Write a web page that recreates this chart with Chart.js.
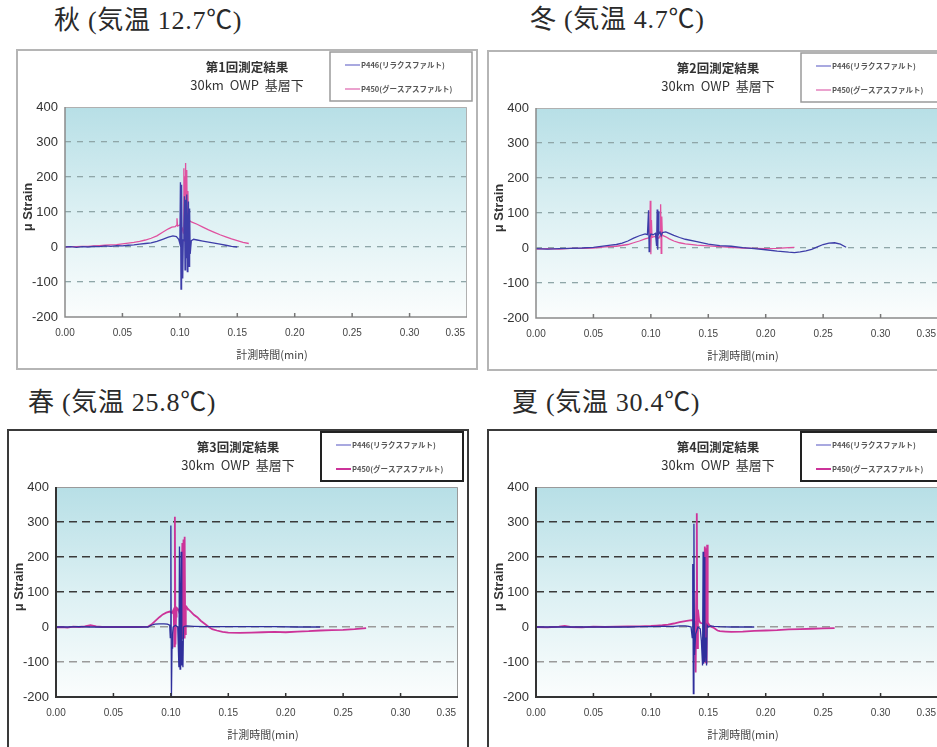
<!DOCTYPE html>
<html><head><meta charset="utf-8">
<script src="https://cdn.jsdelivr.net/npm/chart.js@4"></script>
<style>
html,body{margin:0;padding:0;background:#fff;overflow:hidden;width:937px;height:747px;position:relative;}
.ttl{position:absolute;font-family:"Liberation Serif","Noto Sans CJK JP",serif;font-size:26px;letter-spacing:0.7px;color:#2a2a2a;white-space:nowrap;line-height:1;}
.box{position:absolute;width:462px;height:321px;}
canvas{display:block;}
</style></head><body>
<div class="ttl" style="left:54px;top:8px">秋 (気温 12.7℃)</div>
<div class="ttl" style="left:530px;top:7px">冬 (気温 4.7℃)</div>
<div class="ttl" style="left:28px;top:390px">春 (気温 25.8℃)</div>
<div class="ttl" style="left:512px;top:390px">夏 (気温 30.4℃)</div>
<div class="box" style="left:16px;top:49px"><canvas id="c1" width="462" height="321"></canvas></div>
<div class="box" style="left:487px;top:50px"><canvas id="c2" width="462" height="321"></canvas></div>
<div class="box" style="left:7px;top:429px"><canvas id="c3" width="462" height="321"></canvas></div>
<div class="box" style="left:487px;top:429px"><canvas id="c4" width="462" height="321"></canvas></div>
<script>
// ---- data ----
const seriesNames = ['P446(リラクスファルト)', 'P450(グースアスファルト)'];
const panelTitles = ['第1回測定結果', '第2回測定結果', '第3回測定結果', '第4回測定結果'];
const panelSub = '30km  OWP  基層下';
const xTickLabels = ['0.00','0.05','0.10','0.15','0.20','0.25','0.30','0.35'];
const yTicks = [400, 300, 200, 100, 0, -100, -200];
const xTitle = '計測時間(min)';
const yTitle = 'μ Strain';

// Panel 1 (秋)
const t1b = [0,0.005,0.01,0.015,0.02,0.025,0.03,0.035,0.04,0.045,0.05,0.055,0.06,0.065,0.07,0.075,0.08,0.085,0.09,0.094,0.097,0.099,0.1,0.1005,0.101,0.1015,0.102,0.1025,0.103,0.1035,0.104,0.1045,0.105,0.1055,0.106,0.1065,0.107,0.1075,0.108,0.1085,0.109,0.11,0.112,0.115,0.12,0.125,0.13,0.135,0.14,0.145,0.15];
const v1b = [0,1,-1,1,0,2,1,3,2,4,3,5,6,8,10,12,16,22,28,32,30,22,10,185,-120,178,5,-90,20,60,145,-65,135,-30,150,-70,40,130,-55,110,-20,18,22,20,17,14,11,8,5,2,0];
const t1p = [0,0.005,0.01,0.015,0.02,0.025,0.03,0.035,0.04,0.045,0.05,0.055,0.06,0.065,0.07,0.075,0.08,0.085,0.09,0.093,0.096,0.097,0.0975,0.098,0.1,0.102,0.103,0.1035,0.104,0.1045,0.105,0.1055,0.106,0.1065,0.107,0.1075,0.108,0.109,0.11,0.115,0.12,0.125,0.13,0.135,0.14,0.145,0.15,0.155,0.16];
const v1p = [0,1,1,2,2,3,4,5,6,7,9,11,13,16,20,25,32,42,52,57,58,62,82,60,63,55,40,225,15,200,240,10,220,50,160,80,76,74,72,65,57,49,42,35,29,23,18,13,10];

// Panel 2 (冬)
const t2b = [0,0.01,0.02,0.03,0.04,0.05,0.055,0.06,0.065,0.07,0.075,0.08,0.085,0.09,0.095,0.097,0.098,0.0985,0.099,0.1,0.102,0.104,0.105,0.1055,0.106,0.1065,0.107,0.108,0.109,0.11,0.113,0.116,0.12,0.125,0.13,0.14,0.15,0.16,0.17,0.18,0.19,0.2,0.21,0.22,0.225,0.23,0.235,0.24,0.245,0.25,0.255,0.26,0.265,0.27];
const v2b = [-2,-3,-2,-1,0,2,4,6,8,10,14,20,28,35,40,38,108,-10,30,40,38,42,5,110,-5,105,40,45,35,44,46,42,36,30,25,18,11,7,5,1,-2,-5,-9,-12,-13,-11,-8,-4,3,10,14,15,11,2];
const t2p = [0,0.01,0.02,0.03,0.04,0.05,0.06,0.07,0.08,0.085,0.09,0.095,0.099,0.0995,0.1,0.1005,0.101,0.103,0.105,0.107,0.108,0.1085,0.109,0.1095,0.11,0.113,0.116,0.12,0.125,0.13,0.14,0.15,0.16,0.17,0.18,0.19,0.2,0.21,0.22,0.225];
const v2p = [-3,-2,-3,-1,-1,0,3,5,10,15,20,26,30,135,-18,80,30,33,30,28,35,125,-15,90,36,32,26,20,15,12,8,6,4,2,0,-1,-2,-1,1,2];

// Panel 3 (春)
const t3b = [0,0.01,0.02,0.03,0.04,0.05,0.06,0.07,0.08,0.083,0.086,0.09,0.094,0.097,0.099,0.0995,0.1,0.1005,0.101,0.1015,0.102,0.104,0.106,0.107,0.1075,0.108,0.1085,0.109,0.1095,0.11,0.1105,0.111,0.112,0.114,0.12,0.13,0.15,0.17,0.19,0.21,0.23];
const v3b = [0,0,1,0,0,0,0,0,0,5,8,9,9,8,5,-30,290,-200,-60,-20,0,5,0,-115,230,-120,-10,215,-110,-40,-115,0,2,3,2,1,1,1,1,0,0];
const t3p = [0,0.005,0.01,0.015,0.02,0.025,0.03,0.035,0.04,0.05,0.06,0.07,0.08,0.083,0.086,0.09,0.093,0.096,0.099,0.101,0.1025,0.103,0.1035,0.104,0.1045,0.105,0.106,0.107,0.108,0.109,0.11,0.1105,0.111,0.1115,0.112,0.1125,0.113,0.1135,0.114,0.116,0.118,0.12,0.123,0.126,0.13,0.133,0.136,0.14,0.145,0.15,0.16,0.17,0.18,0.19,0.2,0.21,0.22,0.23,0.24,0.25,0.26,0.27];
const v3p = [-1,0,-2,1,0,2,5,2,0,0,0,0,1,7,16,28,36,41,44,40,50,-55,315,-50,30,55,52,45,35,25,240,-35,250,-30,258,-20,60,58,55,48,42,35,28,18,8,0,-6,-10,-14,-16,-17,-16,-15,-14,-15,-13,-12,-10,-9,-8,-6,-3];

// Panel 4 (夏)
const t4b = [0,0.01,0.02,0.03,0.04,0.05,0.06,0.07,0.08,0.09,0.1,0.11,0.12,0.125,0.13,0.133,0.135,0.136,0.1365,0.137,0.1375,0.138,0.139,0.141,0.143,0.144,0.145,0.1455,0.146,0.1465,0.147,0.148,0.1485,0.149,0.15,0.152,0.155,0.16,0.17,0.18,0.19];
const v4b = [0,0,0,0,0,0,0,0,0,1,1,2,2,3,3,2,0,-30,180,-190,295,-80,-20,0,-5,-40,-110,215,-105,200,-100,-30,-110,5,0,3,2,1,0,0,0];
const t4p = [0,0.01,0.02,0.025,0.03,0.04,0.05,0.06,0.07,0.08,0.09,0.1,0.105,0.11,0.115,0.12,0.125,0.13,0.134,0.137,0.138,0.139,0.1395,0.14,0.1405,0.141,0.142,0.143,0.145,0.146,0.147,0.1475,0.148,0.1485,0.149,0.1495,0.15,0.151,0.153,0.155,0.158,0.16,0.165,0.17,0.18,0.19,0.2,0.21,0.22,0.23,0.24,0.25,0.26];
const v4p = [0,-1,1,3,0,-1,1,0,1,2,2,3,4,5,7,10,14,17,19,20,15,-130,100,325,-60,50,20,12,10,8,230,-100,225,-105,235,0,10,5,0,-3,-10,-12,-13,-14,-13,-11,-10,-9,-7,-6,-5,-4,-3];

// ---- rendering ----
const pts = (t, v) => t.map((x, i) => ({x: x, y: v[i]}));

const panelPlugin = {
  id: 'panel',
  beforeDraw(chart, args, o) {
    const {ctx, chartArea: a} = chart;
    ctx.save();
    ctx.fillStyle = '#fff';
    ctx.fillRect(0, 0, chart.width, chart.height);
    const g = ctx.createLinearGradient(0, a.top, 0, a.bottom);
    g.addColorStop(0, '#b7dfe6');
    g.addColorStop(0.5, '#dcf0f3');
    g.addColorStop(1, '#fbfdfd');
    ctx.fillStyle = g;
    ctx.fillRect(a.left, a.top, a.right - a.left, a.bottom - a.top);
    ctx.restore();
  },
  afterDraw(chart, args, o) {
    const {ctx, chartArea: a} = chart;
    const xs = chart.scales.x;
    const W = chart.width, H = chart.height;
    ctx.save();
    // outer frame
    ctx.strokeStyle = o.dark ? '#3a3a3a' : '#b5b5b5';
    ctx.lineWidth = 2;
    ctx.strokeRect(1, 1, W - 2, H - 2);
    // plot border
    ctx.strokeStyle = o.dark ? '#9a9a9a' : '#b0b0b0';
    ctx.lineWidth = 1;
    ctx.beginPath();
    ctx.moveTo(a.left, a.top + 0.5); ctx.lineTo(a.right - 0.5, a.top + 0.5); ctx.lineTo(a.right - 0.5, a.bottom);
    ctx.stroke();
    ctx.strokeStyle = o.dark ? '#333' : '#8a8a8a';
    ctx.lineWidth = o.dark ? 2 : 1.5;
    ctx.beginPath();
    ctx.moveTo(a.left, a.top); ctx.lineTo(a.left, a.bottom); ctx.lineTo(a.right, a.bottom);
    ctx.stroke();
    // inward x ticks and labels
    ctx.fillStyle = '#444';
    ctx.font = '10px "Liberation Sans", Arial, sans-serif';
    ctx.textBaseline = 'middle';
    xTickLabels.forEach((lab, i) => {
      const px = xs.getPixelForValue(parseFloat(lab));
      if (i > 0 && i < xTickLabels.length - 1) {
        ctx.strokeStyle = o.dark ? '#333' : '#777';
        ctx.lineWidth = 1.5;
        ctx.beginPath(); ctx.moveTo(px, a.bottom); ctx.lineTo(px, a.bottom - 4); ctx.stroke();
      }
      if (i === xTickLabels.length - 1) { ctx.textAlign = 'right'; ctx.fillText(lab, px - 2, a.bottom + 16); }
      else { ctx.textAlign = 'center'; ctx.fillText(lab, px, a.bottom + 16); }
    });
    // x title
    ctx.textAlign = 'center';
    ctx.font = '11px "Noto Sans CJK JP", sans-serif';
    ctx.fillStyle = '#444';
    ctx.fillText(xTitle, (a.left + a.right) / 2 + 6, a.bottom + 38);
    // y title
    ctx.save();
    ctx.translate(12, (a.top + a.bottom) / 2 - 5);
    ctx.rotate(-Math.PI / 2);
    ctx.font = 'bold 13px "Liberation Sans", Arial, sans-serif';
    ctx.fillStyle = '#333';
    ctx.textAlign = 'center';
    ctx.fillText(yTitle, 0, 0);
    ctx.restore();
    // chart title
    ctx.fillStyle = '#333';
    ctx.textAlign = 'center';
    ctx.font = 'bold 12.5px "Noto Sans CJK JP", sans-serif';
    ctx.fillText(o.title, 231, 18);
    ctx.font = '13px "Noto Sans CJK JP", sans-serif';
    ctx.fillText(panelSub, 231, 36);
    // legend box
    const lx = 314, ly = 3, lw = 142, lh = 49;
    ctx.fillStyle = '#fff';
    ctx.fillRect(lx, ly, lw, lh);
    ctx.strokeStyle = o.dark ? '#222' : '#9a9a9a';
    ctx.lineWidth = o.dark ? 2 : 1.5;
    ctx.strokeRect(lx, ly, lw, lh);
    chart.data.datasets.forEach((ds, i) => {
      const yy = ly + 13 + i * 24;
      ctx.strokeStyle = ds.legendColor;
      ctx.lineWidth = o.dark && i === 1 ? 2 : 1.3;
      ctx.beginPath(); ctx.moveTo(lx + 15, yy); ctx.lineTo(lx + 30, yy); ctx.stroke();
      ctx.fillStyle = '#555';
      ctx.textAlign = 'left';
      ctx.font = 'bold 7.5px "Noto Sans CJK JP", sans-serif';
      ctx.fillText(ds.label, lx + 31, yy);
    });
    ctx.restore();
  }
};

function makePanel(id, title, tb, vb, tp, vp, dark) {
  const blue = dark ? '#2f2f9c' : '#3d3da8';
  const pink = dark ? '#cc3399' : '#e0509f';
  new Chart(document.getElementById(id), {
    type: 'line',
    data: {
      datasets: [
        {label: seriesNames[0], data: pts(tb, vb), borderColor: blue, legendColor: '#7b7bcf', borderWidth: 1.3, pointRadius: 0, tension: 0},
        {label: seriesNames[1], data: pts(tp, vp), borderColor: pink, legendColor: dark ? '#cc3399' : '#e070b4', borderWidth: dark ? 1.8 : 1.3, pointRadius: 0, tension: 0}
      ]
    },
    options: {
      responsive: false,
      animation: false,
      devicePixelRatio: 1,
      layout: {padding: {left: 0, right: 11, top: 58, bottom: 0}},
      plugins: {
        legend: {display: false},
        tooltip: {enabled: false},
        panel: {title: title, dark: dark}
      },
      scales: {
        x: {
          type: 'linear', min: 0, max: 0.35,
          ticks: {display: false, stepSize: 0.05},
          grid: {display: false},
          border: {display: false},
          afterFit: s => { s.height = 53; }
        },
        y: {
          min: yTicks[yTicks.length - 1], max: yTicks[0],
          afterBuildTicks: s => { s.ticks = yTicks.slice().reverse().map(v => ({value: v})); },
          ticks: {
            color: '#333', padding: 7,
            font: {family: '"Liberation Sans", Arial, sans-serif', size: 13},
            callback: v => String(v)
          },
          grid: {
            drawTicks: false,
            lineWidth: dark ? 1.6 : 1.3,
            color: c => {
              const v = c.tick && c.tick.value;
              if (v === yTicks[0] || v === yTicks[yTicks.length - 1]) return 'rgba(0,0,0,0)';
              if (dark) return v >= 100 ? '#3a3a3a' : '#9a9a9a';
              return '#8fa6a8';
            }
          },
          border: {display: false, dash: dark ? [8, 5] : [6, 6]},
          afterFit: s => { s.width = 49; }
        }
      }
    },
    plugins: [panelPlugin]
  });
}

makePanel('c1', panelTitles[0], t1b, v1b, t1p, v1p, false);
makePanel('c2', panelTitles[1], t2b, v2b, t2p, v2p, false);
makePanel('c3', panelTitles[2], t3b, v3b, t3p, v3p, true);
makePanel('c4', panelTitles[3], t4b, v4b, t4p, v4p, true);
</script>
</body></html>
